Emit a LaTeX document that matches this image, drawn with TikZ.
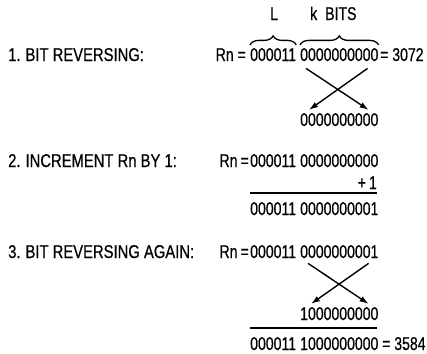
\documentclass[tikz,border=0pt]{standalone}
\usepackage{fontspec}
\setmainfont{Liberation Sans}[FakeStretch=0.76,FakeBold=0.6]
\newfontfamily\labfont{Liberation Sans}[FakeStretch=0.8,FakeBold=0.6]
\usetikzlibrary{decorations.pathreplacing,arrows.meta}
\begin{document}
\begin{tikzpicture}[x=1bp,y=-1bp,
  txt/.style={inner sep=0pt, anchor=base west, font=\fontsize{18.5bp}{20bp}\selectfont},
  lab/.style={inner sep=0pt, anchor=base west, font=\labfont\fontsize{18.5bp}{20bp}\selectfont},
  brc/.style={decorate, decoration={brace, amplitude=9bp}, line width=1.3bp},
  arr/.style={line width=1.4bp, -{Latex[length=9bp,width=6bp]}},
  rule/.style={line width=1.7bp}]
\useasboundingbox (0,0) rectangle (427,354);
% row 1
\node[lab] (lab1) at (8,61) {1.\hspace{5bp}BIT REVERSING:};
\node[txt, anchor=base east] (rn1) at (246,61) {Rn =};
\node[txt] (l1) at (250,61) {000011};
\node[txt] (k1) at (300,61) {0000000000};
\node[txt] (e1) at (380,61) {= 3072};
\node[txt, anchor=base west] (L) at (270,20) {L};
\node[txt, anchor=base west] (kb) at (310,20) {k\hspace{8bp}BITS};
\draw[brc] ([yshift=3bp]l1.north west) -- ([yshift=3bp]l1.north east);
\draw[brc] ([yshift=3bp]k1.north west) -- ([yshift=3bp]k1.north east);
\node[txt] (k1r) at (300,126) {0000000000};
\draw[arr] ([xshift=6bp,yshift=-7bp]k1.south west) -- ([xshift=-10bp,yshift=3bp]k1r.north east);
\draw[arr] ([xshift=-11bp,yshift=-7bp]k1.south east) -- ([xshift=9bp,yshift=3bp]k1r.north west);
% row 2
\node[lab] (lab2) at (8,167) {2.\hspace{5bp}INCREMENT Rn BY 1:};
\node[txt, anchor=base east] (rn2) at (249,167) {Rn\,=};
\node[txt] (l2) at (250,167) {000011};
\node[txt] (k2) at (300,167) {0000000000};
\node[txt, anchor=base east] (p2) at (377,189) {+\,1};
\draw[rule] (250,193) -- (377,193);
\node[txt] (l2r) at (250,215) {000011};
\node[txt] (k2r) at (300,215) {0000000001};
% row 3
\node[lab] (lab3) at (8,258) {3.\hspace{5bp}BIT REVERSING AGAIN:};
\node[txt, anchor=base east] (rn3) at (249,258) {Rn\,=};
\node[txt] (l3) at (250,258) {000011};
\node[txt] (k3) at (300,258) {0000000001};
\node[txt] (k3r) at (300,320) {1000000000};
\draw[arr] ([xshift=8bp,yshift=-5bp]k3.south west) -- ([xshift=-10bp,yshift=3bp]k3r.north east);
\draw[arr] ([xshift=-10bp,yshift=-5bp]k3.south east) -- ([xshift=11bp,yshift=3bp]k3r.north west);
\draw[rule] (250,328) -- (377,328);
\node[txt] (l3b) at (250,350) {000011};
\node[txt] (k3b) at (300,350) {1000000000};
\node[txt] (e3) at (382,350) {= 3584};
\end{tikzpicture}
\end{document}
